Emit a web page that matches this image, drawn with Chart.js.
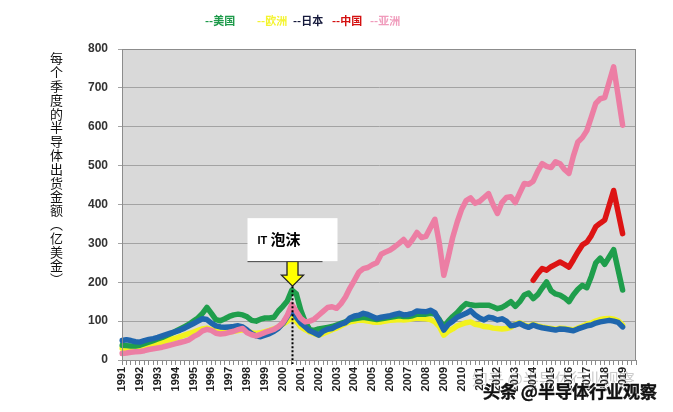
<!DOCTYPE html>
<html>
<head>
<meta charset="utf-8">
<script src="https://cdn.jsdelivr.net/npm/chart.js@4.4.1/dist/chart.umd.min.js"></script>
<style>
  body { margin: 0; background: #fff; }
  #wrap { position: relative; width: 673px; height: 412px; }
  .lg { position: absolute; top: 12px; font: bold 11px "Noto Sans CJK SC", sans-serif; white-space: nowrap; }
  #ytitle { position: absolute; left: 49px; top: 52px; writing-mode: vertical-rl; text-orientation: upright;
            font: 13px "Noto Sans CJK SC", sans-serif; line-height: 14px; letter-spacing: 0.8px; color: #111; }
  .wm { position: absolute; white-space: nowrap; font-family: "Noto Sans CJK SC", sans-serif; }
</style>
</head>
<body>
<div id="wrap">
  <canvas id="semiChart" width="673" height="412"></canvas>
  <div id="legend"></div>
  <div id="ytitle">每个季度的半导体出货金额（亿美金）</div>
  <div class="wm" style="left:472px;top:366px;font-size:16px;color:rgba(110,110,110,0.35)">知乎 @半导体行业观察</div>
  <div class="wm" style="left:483px;top:378px;font-size:17px;font-weight:bold;color:#111;-webkit-text-stroke:0.4px #111;text-shadow:0 0 2px #fff,0 0 2px #fff,1px 1px 0 #fff,-1px -1px 0 #fff">头条 @半导体行业观察</div>
</div>
<script>
// 年份刻度 (每年4个季度)
const yearLabels = ['1991','1992','1993','1994','1995','1996','1997','1998','1999','2000',
  '2001','2002','2003','2004','2005','2006','2007','2008','2009','2010',
  '2011','2012','2013','2014','2015','2016','2017','2018','2019'];
const quarters = [];
yearLabels.forEach(y => ['Q1','Q2','Q3','Q4'].forEach(q => quarters.push(y + q)));

// 季度出货金额 (亿美金), 1991Q1 起
const usa = [
  38,37,36,36, 38,42,46,50, 54,58,63,68, 74,80,86,92, 100,108,120,135,
  120,104,101,106, 112,116,118,116, 111,102,100,105, 108,108,110,126, 138,152,180,170,
  128,98,78,76, 80,82,84,86, 90,94,98,104, 106,108,110,108, 106,104,106,108,
  110,112,114,112, 112,114,118,118, 118,120,118,104, 84,100,112,122, 135,145,142,140,
  141,141,141,137, 132,135,142,150, 138,150,167,172, 158,168,185,201, 178,170,167,160,
  150,168,182,192, 186,215,250,262, 246,265,284,232, 180
];
const europe = [
  30,30,29,30, 32,34,37,40, 43,46,50,53, 56,60,64,68, 72,76,80,82,
  78,74,72,72, 72,74,76,78, 75,70,68,70, 73,76,80,85, 92,100,108,100,
  85,78,72,68, 64,68,73,78, 82,88,94,98, 100,103,102,100, 98,97,98,100,
  102,103,104,103, 104,106,108,107, 106,104,98,86, 64,74,80,88, 92,96,98,92,
  90,86,85,82, 81,80,81,84, 92,96,90,86, 92,88,85,83, 81,79,82,81,
  79,77,82,87, 92,95,100,104, 106,107,105,101, 90
];
const japan = [
  50,52,50,47, 46,50,53,55, 58,62,66,70, 73,77,82,88, 94,100,106,104,
  95,88,85,84, 85,86,88,85, 77,68,62,60, 64,68,74,82, 94,112,128,110,
  95,85,75,70, 64,74,79,81, 87,92,96,108, 113,115,120,117, 112,107,110,112,
  114,117,120,116, 117,120,126,125, 124,128,122,100, 77,92,100,110, 115,120,127,116,
  108,103,110,108, 103,106,100,88, 90,94,88,84, 90,86,83,81, 79,77,80,79,
  77,75,80,84, 88,90,95,98, 100,102,100,97, 85
];
const china = [
  null,null,null,null, null,null,null,null, null,null,null,null, null,null,null,null, null,null,null,null,
  null,null,null,null, null,null,null,null, null,null,null,null, null,null,null,null, null,null,null,null,
  null,null,null,null, null,null,null,null, null,null,null,null, null,null,null,null, null,null,null,null,
  null,null,null,null, null,null,null,null, null,null,null,null, null,null,null,null, null,null,null,null,
  null,null,null,null, null,null,null,null, null,null,null,null, 205,222,235,231, 240,246,252,246,
  239,258,278,296, 303,320,343,352, 360,398,436,380, 325
];
const asia = [
  17,18,20,21, 22,24,27,29, 31,33,36,39, 42,45,48,52, 60,66,75,79,
  76,69,67,68, 71,74,78,81, 70,65,62,66, 71,75,79,86, 96,115,143,125,
  107,98,100,105, 115,125,135,137, 133,145,162,185, 205,226,235,238, 245,250,272,278,
  283,291,300,310, 295,310,328,315, 318,340,362,300, 218,265,316,355, 388,410,417,403,
  408,418,428,400, 377,405,418,420, 405,430,454,452, 460,485,505,498, 495,510,505,490,
  480,525,561,572, 590,625,660,672, 675,715,754,680, 604
];

const seriesNames = ['美国', '欧洲', '日本', '中国', '亚洲'];
const seriesData = [usa, europe, japan, china, asia];
const lineColors = ['#1f9e4c', '#f2f21e', '#1f66ad', '#dd1414', '#ec7ea4'];
const legendColors = ['#1d9a4a', '#f4f430', '#161a3c', '#d41010', '#f09cbc'];
const drawOrder = [3, 4, 2, 0, 1]; // 小的画在上面
const legendLeft = [205, 257, 293, 332, 370];

// IT 泡沫标注位置 (2000Q3)
const bubbleIndex = 38;
const bubbleTip = 190;

// 图例
const legendBox = document.getElementById('legend');
seriesNames.forEach((name, i) => {
    const s = document.createElement('span');
    s.className = 'lg';
    s.style.left = legendLeft[i] + 'px';
    s.style.color = legendColors[i];
    s.textContent = '--' + name;
    legendBox.appendChild(s);
});

const plotBg = {
    id: 'plotBg',
    beforeDraw(chart) {
        const a = chart.chartArea, c = chart.ctx;
        c.save();
        c.fillStyle = '#d9d9d9';
        c.fillRect(a.left, a.top, a.right - a.left, a.bottom - a.top);
        c.restore();
    },
    afterDraw(chart) {
        const a = chart.chartArea, c = chart.ctx;
        c.save();
        c.strokeStyle = '#8c8c8c';
        c.lineWidth = 1;
        c.strokeRect(a.left + 0.5, a.top + 0.5, a.right - a.left - 1, a.bottom - a.top);
        c.restore();
    }
};

const bubbleNote = {
    id: 'bubbleNote',
    afterDatasetsDraw(chart) {
        const c = chart.ctx;
        const x = Math.round(chart.scales.x.getPixelForValue(bubbleIndex)) + 0.5;
        const tip = chart.scales.y.getPixelForValue(bubbleTip);
        const bottom = chart.chartArea.bottom + 4;
        c.save();
        // 虚线
        c.strokeStyle = '#000';
        c.lineWidth = 2;
        c.setLineDash([2, 2]);
        c.beginPath();
        c.moveTo(x, tip);
        c.lineTo(x, bottom);
        c.stroke();
        c.setLineDash([]);
        // 箭头
        c.fillStyle = '#ffff00';
        c.strokeStyle = '#222';
        c.lineWidth = 1.3;
        c.beginPath();
        c.moveTo(x - 5.5, tip - 25);
        c.lineTo(x + 5.5, tip - 25);
        c.lineTo(x + 5.5, tip - 11);
        c.lineTo(x + 11, tip - 11);
        c.lineTo(x, tip);
        c.lineTo(x - 11, tip - 11);
        c.lineTo(x - 5.5, tip - 11);
        c.closePath();
        c.fill();
        c.stroke();
        // 文本框
        c.fillStyle = '#fff';
        c.fillRect(x - 45, tip - 68, 90, 43);
        c.fillStyle = '#444';
        c.fillRect(x - 45, tip - 25, 75, 1);
        c.fillStyle = '#000';
        c.textBaseline = 'alphabetic';
        c.font = 'bold 11px "Liberation Sans", Arial, sans-serif';
        c.fillText('IT', x - 35, tip - 42);
        c.font = 'bold 15px "Noto Sans CJK SC", sans-serif';
        c.fillText('泡沫', x - 22, tip - 41);
        c.restore();
    }
};

const ctx = document.getElementById('semiChart').getContext('2d');
const semiChart = new Chart(ctx, {
    type: 'line',
    data: {
        labels: quarters,
        datasets: seriesNames.map((name, i) => ({
            label: name,
            data: seriesData[i],
            borderColor: lineColors[i],
            backgroundColor: lineColors[i],
            borderWidth: 5.5,
            pointRadius: 0,
            tension: 0,
            fill: false,
            borderJoinStyle: 'round',
            borderCapStyle: 'round',
            order: drawOrder[i]
        }))
    },
    options: {
        responsive: false,
        animation: false,
        devicePixelRatio: 1,
        layout: { padding: { left: 60, top: 49, right: 37, bottom: 0 } },
        plugins: {
            legend: { display: false },
            tooltip: { enabled: false }
        },
        scales: {
            x: {
                offset: false,
                afterFit(scale) { scale.height = 52; },
                grid: { drawOnChartArea: false, drawTicks: true, tickLength: 5, color: '#8a8a8a' },
                border: { display: true, color: '#8c8c8c' },
                ticks: {
                    autoSkip: false,
                    maxRotation: 90,
                    minRotation: 90,
                    padding: 2,
                    color: '#222',
                    font: { family: '"Liberation Sans", Arial, sans-serif', size: 11, weight: 'bold' },
                    callback: (v, i) => (i % 4 === 0 ? yearLabels[i / 4] : '')
                }
            },
            y: {
                min: 0,
                max: 800,
                afterFit(scale) { scale.width = 62; },
                grid: { color: '#a3a3a3', tickLength: 4 },
                border: { display: true, color: '#8c8c8c' },
                ticks: {
                    stepSize: 100,
                    padding: 10,
                    color: '#333',
                    font: { family: '"Liberation Sans", Arial, sans-serif', size: 12, weight: 'bold' }
                }
            }
        }
    },
    plugins: [plotBg, bubbleNote]
});
</script>
</body>
</html>
